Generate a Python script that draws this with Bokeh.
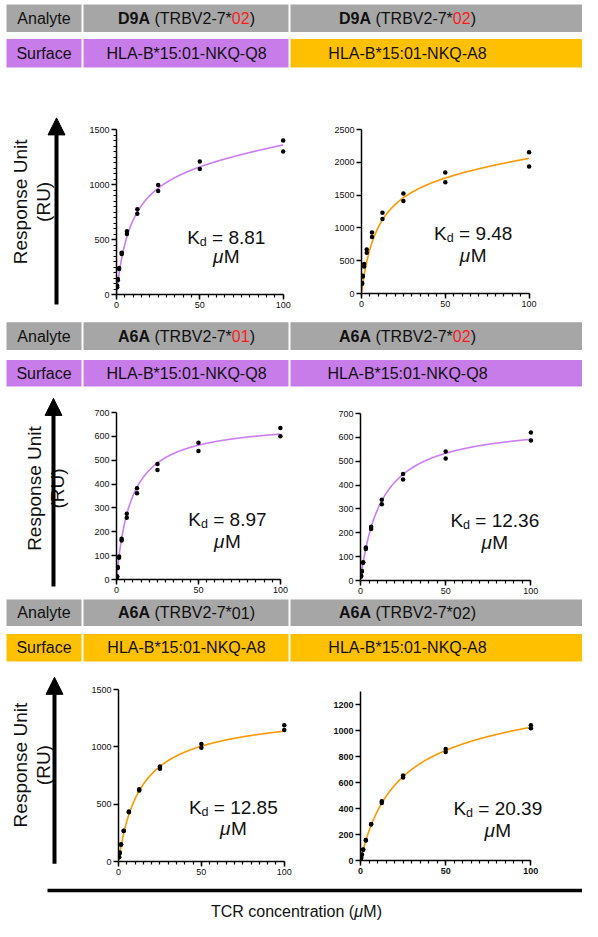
import numpy as np
from bokeh.plotting import figure
from bokeh.layouts import column, row
from bokeh.models import Range1d, FixedTicker, Arrow, NormalHead
from bokeh.embed import file_html
from bokeh.resources import INLINE
from bokeh.core.properties import value

FONT = "Liberation Sans"

# ---------------- data ----------------
conc = [100, 50, 25, 12.5, 6.25, 3.125, 1.5625, 0.78125, 0.390625]

d9a02_q8_rep1 = [1400, 1210, 995, 775, 575, 380, 240, 140, 80]
d9a02_q8_rep2 = [1300, 1140, 940, 735, 550, 368, 232, 130, 65]
d9a02_a8_rep1 = [2155, 1845, 1525, 1230, 930, 670, 450, 270, 160]
d9a02_a8_rep2 = [1935, 1695, 1410, 1135, 860, 620, 410, 260, 150]
a6a01_q8_rep1 = [635, 573, 484, 383, 276, 171, 96, 52, 14]
a6a01_q8_rep2 = [600, 539, 459, 362, 259, 163, 91, 48, 10]
a6a02_q8_rep1 = [620, 541, 446, 338, 225, 138, 77, 40, 20]
a6a02_q8_rep2 = [587, 511, 423, 320, 216, 132, 74, 38, 17]
a6a01_a8_rep1 = [1188, 1025, 829, 630, 435, 268, 150, 78, 40]
a6a01_a8_rep2 = [1146, 993, 809, 619, 429, 265, 145, 75, 38]
a6a02_a8_rep1 = [1041, 858, 653, 456, 281, 157, 84, 46, 22]
a6a02_a8_rep2 = [1018, 835, 638, 443, 276, 154, 82, 44, 20]

analyte = ["D9A", "D9A", "A6A", "A6A", "A6A", "A6A"]
allele = ["02", "02", "01", "02", "01", "02"]
allele_red = [True, True, True, True, False, False]
surface = ["HLA-B*15:01-NKQ-Q8", "HLA-B*15:01-NKQ-A8",
           "HLA-B*15:01-NKQ-Q8", "HLA-B*15:01-NKQ-Q8",
           "HLA-B*15:01-NKQ-A8", "HLA-B*15:01-NKQ-A8"]
kd = [8.81, 9.48, 8.97, 12.36, 12.85, 20.39]
bmax = [1229, 1901, 664, 665, 1241, 1133]
nonspecific = [2.3, 3.24, 0.0, 0.0, 0.37, 0.84]
reps = [(d9a02_q8_rep1, d9a02_q8_rep2), (d9a02_a8_rep1, d9a02_a8_rep2),
        (a6a01_q8_rep1, a6a01_q8_rep2), (a6a02_q8_rep1, a6a02_q8_rep2),
        (a6a01_a8_rep1, a6a01_a8_rep2), (a6a02_a8_rep1, a6a02_a8_rep2)]

y_max = [1500, 2500, 700, 700, 1500, 1300]
y_ticks = [[0, 500, 1000, 1500], [0, 500, 1000, 1500, 2000, 2500],
           [0, 100, 200, 300, 400, 500, 600, 700], [0, 100, 200, 300, 400, 500, 600, 700],
           [0, 500, 1000, 1500], [0, 200, 400, 600, 800, 1000, 1200]]
y_minor_step = [50, None, None, None, None, None]
x_ticks = [0, 50, 100]
x_minor_step = 5
bold_ticks = [False, False, False, False, False, True]

# ---------------- style ----------------
GREY = "#a6a6a6"
VIOLET_BOX = "#c77cea"
ORANGE_BOX = "#ffc000"
VIOLET_LINE = "#cc7dfa"
ORANGE_LINE = "#ff9800"
RED = "#ff1a1a"
INK = "#111111"

def box_color(s):
    return VIOLET_BOX if s.endswith("Q8") else ORANGE_BOX

def line_color(s):
    return VIOLET_LINE if s.endswith("Q8") else ORANGE_LINE

# Arial / Liberation Sans advance widths (1/1000 em)
AW = {' ': 278, '(': 333, ')': 333, '*': 389, '-': 333, ':': 278, '=': 584, '.': 278,
      'A': 667, 'B': 667, 'C': 722, 'D': 722, 'H': 722, 'K': 667, 'L': 556, 'M': 833,
      'N': 722, 'Q': 778, 'R': 722, 'S': 667, 'T': 611, 'U': 722, 'V': 667,
      'a': 556, 'c': 500, 'd': 556, 'e': 556, 'f': 278, 'i': 222, 'l': 222, 'n': 556,
      'o': 556, 'p': 556, 'r': 333, 's': 500, 't': 278, 'u': 556, 'y': 500, 'μ': 576}
BW = {'A': 722, 'D': 722, ' ': 278}

def tw(s, size, bold=False):
    tot = 0
    for c in s:
        if bold and c in BW:
            tot += BW[c]
        else:
            tot += AW.get(c, 556)
    return tot * size / 1000.0

def rich(p, x, y, segs, baseline="middle"):
    # segs: (text, size, style, color, dy); leading spaces become offsets
    widths = [tw(t, sz, st == "bold") for (t, sz, st, c, dy) in segs]
    off = -sum(widths) / 2.0
    for (t, sz, st, c, dy), w in zip(segs, widths):
        lead = len(t) - len(t.lstrip(" "))
        shift = tw(" " * lead, sz)
        p.text(x=[x], y=[y], text=[t.lstrip(" ")], x_offset=off + shift, y_offset=dy,
               text_font=value(FONT), text_font_size=f"{sz}px", text_font_style=st,
               text_color=c, text_align="left", text_baseline=baseline)
        off += w

# reference-space layout -> page pixels (vertical squeeze to fit)
def f(y):
    return int(round(y * 921.0 / 932.0))

X0, X1 = 0, 582
TOTAL_W = X1 - X0

def blank(width, height, xr, yr):
    p = figure(width=width, height=height, x_range=xr, y_range=yr,
               output_backend="svg", toolbar_location=None, frame_align=False,
               x_axis_location=None, y_axis_location=None, min_border=0)
    p.outline_line_color = None
    p.grid.visible = False
    return p

COLS = [(6, 81), (83, 288), (290, 598)]
COL_CX = [43.5, 186, 407]

def header(top, bottom, a_box, s_box, idx):
    p = blank(TOTAL_W, f(bottom) - f(top), Range1d(X0, X1), Range1d(bottom, top))
    ay = (a_box[0] + a_box[1]) / 2.0
    sy = (s_box[0] + s_box[1]) / 2.0
    for (l, r) in COLS:
        p.quad(left=[l], right=[r], top=[a_box[0]], bottom=[a_box[1]], fill_color=GREY, line_color=None)
    rich(p, COL_CX[0], ay, [("Analyte", 16, "normal", INK, 0)])
    for k, i in enumerate(idx):
        rc = RED if allele_red[i] else INK
        rich(p, COL_CX[k + 1], ay, [(analyte[i], 16, "bold", INK, 0),
                                    (" (TRBV2-7*", 16, "normal", INK, 0),
                                    (allele[i], 16, "normal", rc, 0),
                                    (")", 16, "normal", INK, 0)])
    p.quad(left=[COLS[0][0]], right=[COLS[0][1]], top=[s_box[0]], bottom=[s_box[1]],
           fill_color=box_color(surface[idx[0]]), line_color=None)
    rich(p, COL_CX[0], sy, [("Surface", 16, "normal", INK, 0)])
    for k, i in enumerate(idx):
        l, r = COLS[k + 1]
        p.quad(left=[l], right=[r], top=[s_box[0]], bottom=[s_box[1]],
               fill_color=box_color(surface[i]), line_color=None)
        rich(p, COL_CX[k + 1], sy, [(surface[i], 16, "normal", INK, 0)])
    return p

def ylabel_fig(top, bottom, ax, tip, abot, tx1, tx2, ty):
    p = blank(85 - X0, f(bottom) - f(top), Range1d(X0, 85), Range1d(bottom, top))
    p.add_layout(Arrow(end=NormalHead(size=17, fill_color="black", line_color="black", line_width=1),
                       x_start=ax, y_start=abot, x_end=ax, y_end=tip,
                       line_width=4, line_color="black"))
    for tx, t in ((tx1, "Response Unit"), (tx2, "(RU)")):
        p.text(x=[tx], y=[ty], text=[t], angle=90, angle_units="deg",
               text_font=value(FONT), text_font_size="19px", text_color=INK,
               text_align="center", text_baseline="middle")
    return p

XMAX = 108.0

# per panel geometry (reference pixels): frame left, x=100 px, y=0 px, top tick px, top tick value
GEOM = [(116, 283, 298, 131, 1500), (361, 529, 297, 131, 2500),
        (116, 280, 586, 417, 700), (360, 530, 587, 418, 700),
        (118, 284, 871, 697, 1500), (360, 530, 870, 712, 1200)]
# Kd label placement (reference pixels): centre x, baseline 1, baseline 2
KD_POS = [(226, 247, 266), (473, 243, 265), (227, 532, 554),
          (494, 533, 555), (233, 823, 844), (497, 824, 846)]
KD_FS = 19
MID = 0.36  # cap-height middle above baseline, in em

def panel(i, fig_l, fig_r, top, bottom):
    left_px, x100, y0, ytp, ytv = GEOM[i]
    ymax = y_max[i]
    frame_top = y0 - ymax * (y0 - ytp) / ytv
    H = f(bottom) - f(top)
    W = fig_r - fig_l
    bt = f(frame_top) - f(top)
    fh = f(y0) - f(frame_top)
    bb = H - bt - fh
    bl = left_px - fig_l
    fw = int(round((x100 - left_px) * XMAX / 100.0))
    br = W - bl - fw
    p = figure(width=W, height=H, x_range=Range1d(0, XMAX), y_range=Range1d(0, ymax),
               output_backend="svg", toolbar_location=None, frame_align=False,
               min_border_left=bl, min_border_right=br, min_border_top=bt, min_border_bottom=bb)
    p.outline_line_color = None
    p.grid.visible = False
    col = line_color(surface[i])
    xs = np.linspace(0, 100, 400)
    ys = bmax[i] * xs / (kd[i] + xs) + nonspecific[i] * xs
    p.line(xs, ys, line_color=col, line_width=1.6)
    for rr in reps[i]:
        p.scatter(conc, rr, size=4.5, fill_color="black", line_color=None)
    minor_y = list(range(0, ymax + 1, y_minor_step[i])) if y_minor_step[i] else []
    p.xaxis.ticker = FixedTicker(ticks=x_ticks, minor_ticks=list(range(0, 101, x_minor_step)))
    p.yaxis.ticker = FixedTicker(ticks=y_ticks[i], minor_ticks=minor_y)
    p.xaxis.bounds = (0, 100)
    for ax in (p.xaxis[0], p.yaxis[0]):
        ax.axis_line_width = 1.5
        ax.axis_line_color = "black"
        ax.major_tick_line_width = 1.5
        ax.minor_tick_line_width = 1.2
        ax.major_tick_out = 5
        ax.major_tick_in = 0
        ax.minor_tick_out = 3
        ax.minor_tick_in = 0
        ax.major_label_standoff = 2
        ax.major_label_text_font = FONT
        ax.major_label_text_font_size = "9px"
        ax.major_label_text_color = INK
        ax.major_label_text_font_style = "bold" if bold_ticks[i] else "normal"
    cx, b1, b2 = KD_POS[i]
    dx = (cx - left_px) / (x100 - left_px) * 100.0
    m1 = b1 - MID * KD_FS
    m2 = b2 - MID * KD_FS
    dy1 = (y0 - m1) / (y0 - ytp) * ytv
    dy2 = (y0 - m2) / (y0 - ytp) * ytv
    rich(p, dx, dy1, [("K", KD_FS, "normal", INK, 0), ("d", 12.5, "normal", INK, 5),
                      (f" = {kd[i]:.2f}", KD_FS, "normal", INK, 0)])
    rich(p, dx, dy2, [("μ", KD_FS, "italic", INK, 0), ("M", KD_FS, "normal", INK, 0)])
    return p

ROWS = [dict(h=(0, 70), a=(4, 32), s=(39, 68), pr=(70, 316), idx=(0, 1),
             lab=(56, 119, 308, 20, 43, 204)),
        dict(h=(316, 395), a=(326, 354), s=(364, 391), pr=(395, 603), idx=(2, 3),
             lab=(53, 403, 593, 34, 57, 494)),
        dict(h=(603, 672), a=(606, 633), s=(641, 669), pr=(672, 890), idx=(4, 5),
             lab=(54, 685, 874, 20, 43, 774))]

blocks = []
for R in ROWS:
    blocks.append(header(R["h"][0], R["h"][1], R["a"], R["s"], R["idx"]))
    t, b = R["pr"]
    lab = ylabel_fig(t, b, *R["lab"])
    pa = panel(R["idx"][0], 85, 300, t, b)
    pb = panel(R["idx"][1], 300, X1, t, b)
    blocks.append(row(lab, pa, pb))

bt, bb = 890, 932
pbot = blank(TOTAL_W, f(bb) - f(bt), Range1d(X0, X1), Range1d(bb, bt))
pbot.segment(x0=[47], y0=[901], x1=[598], y1=[901], line_width=3.5, line_color="black")
rich(pbot, 296, 922, [("TCR concentration (", 16, "normal", INK, 0),
                      ("μ", 16, "italic", INK, 0), ("M)", 16, "normal", INK, 0)])
blocks.append(pbot)

layout = column(*blocks)
open("out.html", "w").write(file_html(layout, INLINE))
